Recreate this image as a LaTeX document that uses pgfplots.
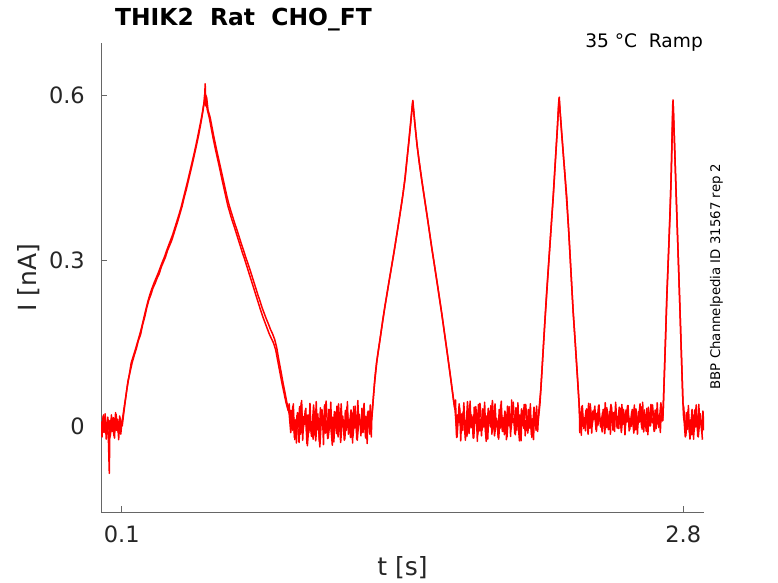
\documentclass[border=0pt]{standalone}
\usepackage{fontspec}
\setmainfont{DejaVu Sans}
\usepackage{pgfplots}
\pgfplotsset{compat=1.18}
\definecolor{txt}{HTML}{262626}
\begin{document}
\begin{tikzpicture}
\path[use as bounding box] (0,0) rectangle (778bp,583bp);
\begin{axis}[
  at={(101bp,71bp)}, anchor=south west,
  scale only axis, width=603bp, height=469bp,
  xmin=0, xmax=2.9, ymin=-0.156, ymax=0.694,
  axis x line*=bottom, axis y line*=left,
  axis line style={black!60, line width=0.6bp},
  xtick={0.1,2.8}, xticklabels={0.1,2.8},
  ytick={0,0.3,0.6}, yticklabels={0\hspace{16bp},0.3,0.6},
  tick align=inside, major tick length=6bp,
  every tick/.style={black!60, line width=0.6bp},
  /pgf/number format/assume math mode=true,
  ticklabel style={font=\fontsize{22.5bp}{27bp}\selectfont, text=txt, inner sep=0pt},
  xticklabel style={anchor=base, yshift=-30.7bp},
  yticklabel style={anchor=east, xshift=-16bp},
]
% sweep A
\addplot[red, line width=1.5bp, line join=round] coordinates {
(0.000,0.008)(0.005,-0.020)(0.010,0.018)(0.015,-0.012)(0.020,0.022)(0.025,-0.024)(0.030,0.005)(0.035,-0.016)(0.040,-0.086)(0.043,0.010)
(0.045,-0.018)(0.050,0.020)(0.055,-0.010)(0.060,0.015)(0.065,-0.022)(0.070,0.024)(0.075,-0.008)(0.080,0.012)(0.085,-0.025)(0.090,0.018)
(0.095,-0.015)(0.100,0.004)
(0.110,0.030)(0.120,0.055)(0.130,0.082)(0.140,0.098)(0.150,0.115)(0.160,0.128)(0.170,0.140)(0.180,0.155)(0.190,0.165)(0.200,0.183)
(0.210,0.197)(0.220,0.214)(0.230,0.228)(0.240,0.238)(0.250,0.250)(0.260,0.258)(0.270,0.268)(0.280,0.276)(0.290,0.288)(0.300,0.297)
(0.310,0.306)(0.320,0.318)(0.330,0.327)(0.340,0.336)(0.350,0.348)(0.360,0.360)(0.370,0.372)(0.380,0.385)(0.390,0.398)(0.400,0.414)
(0.410,0.428)(0.420,0.444)(0.430,0.460)(0.440,0.476)(0.450,0.493)(0.460,0.510)(0.470,0.528)(0.480,0.548)(0.490,0.570)(0.495,0.585)
(0.500,0.605)(0.503,0.580)(0.506,0.598)(0.510,0.575)
(0.520,0.560)(0.530,0.540)(0.540,0.520)(0.550,0.502)(0.560,0.485)(0.570,0.468)(0.580,0.450)(0.590,0.433)(0.600,0.416)(0.610,0.399)
(0.620,0.386)(0.630,0.373)(0.640,0.362)(0.650,0.350)(0.660,0.338)(0.670,0.326)(0.680,0.314)(0.690,0.303)(0.700,0.291)(0.710,0.279)
(0.720,0.267)(0.730,0.255)(0.740,0.243)(0.750,0.231)(0.760,0.219)(0.770,0.207)(0.780,0.196)(0.790,0.186)(0.800,0.176)(0.810,0.166)
(0.820,0.158)(0.830,0.150)(0.840,0.138)(0.850,0.118)(0.860,0.098)(0.870,0.078)(0.880,0.060)(0.890,0.042)(0.900,0.028)(0.905,0.040)
(0.910,0.010)
(0.915,0.028)(0.920,-0.008)(0.925,0.040)(0.930,-0.021)(0.935,0.011)(0.940,-0.031)(0.945,0.024)(0.950,-0.002)(0.955,0.035)(0.960,-0.015)
(0.965,0.046)(0.970,-0.026)(0.975,0.017)(0.980,0.003)(0.985,0.032)(0.990,-0.032)(0.995,0.020)(1.000,-0.012)(1.005,0.041)(1.010,-0.004)
(1.015,0.008)(1.020,-0.024)(1.025,0.027)(1.030,-0.018)(1.035,0.044)(1.040,-0.007)(1.045,0.014)(1.050,-0.028)(1.055,0.033)(1.060,0.001)
(1.065,0.022)(1.070,-0.034)(1.075,0.038)(1.080,-0.013)(1.085,0.009)(1.090,-0.023)(1.095,0.030)(1.100,-0.005)(1.105,0.043)(1.110,-0.016)
(1.115,0.016)(1.120,-0.029)(1.125,0.025)(1.130,0.004)(1.135,0.036)(1.140,-0.020)(1.145,0.019)(1.150,-0.010)(1.155,0.040)(1.160,0.000)
(1.165,0.006)(1.170,-0.026)(1.175,0.028)(1.180,-0.008)(1.185,0.044)(1.190,-0.015)(1.195,0.012)(1.200,-0.021)(1.205,0.024)(1.210,-0.031)
(1.215,0.035)(1.220,-0.004)(1.225,0.020)(1.230,-0.024)(1.235,0.046)(1.240,0.003)(1.245,0.011)(1.250,-0.018)(1.255,0.032)(1.260,-0.012)
(1.265,0.041)(1.270,-0.007)(1.275,0.017)(1.280,-0.032)(1.285,0.027)(1.290,-0.002)(1.295,0.038)(1.300,-0.020)
(1.302,0.010)(1.310,0.052)(1.318,0.090)(1.325,0.114)(1.335,0.140)(1.345,0.165)(1.355,0.192)(1.365,0.216)(1.375,0.238)(1.385,0.261)
(1.395,0.283)(1.405,0.306)(1.413,0.324)(1.423,0.348)(1.433,0.372)(1.443,0.397)(1.453,0.422)(1.461,0.446)(1.470,0.478)(1.480,0.512)
(1.490,0.550)(1.497,0.580)(1.500,0.590)(1.503,0.575)(1.510,0.545)(1.520,0.510)(1.530,0.478)(1.542,0.446)(1.550,0.426)(1.560,0.401)
(1.570,0.376)(1.580,0.350)(1.590,0.324)(1.600,0.300)(1.610,0.275)(1.620,0.250)(1.630,0.225)(1.638,0.205)(1.648,0.178)(1.658,0.151)
(1.668,0.124)(1.678,0.096)(1.688,0.068)(1.696,0.045)(1.702,0.030)
(1.705,0.047)(1.710,-0.021)(1.715,0.020)(1.720,0.006)(1.725,0.033)(1.730,-0.027)(1.735,0.022)(1.740,-0.008)(1.745,0.042)(1.750,0.000)
(1.755,0.010)(1.760,-0.019)(1.765,0.028)(1.770,-0.014)(1.775,0.045)(1.780,-0.003)(1.785,0.016)(1.790,-0.022)(1.795,0.034)(1.800,0.005)
(1.805,0.024)(1.810,-0.028)(1.815,0.039)(1.820,-0.009)(1.825,0.012)(1.830,-0.018)(1.835,0.031)(1.840,-0.002)(1.845,0.043)(1.850,-0.012)
(1.855,0.018)(1.860,-0.024)(1.865,0.027)(1.870,0.008)(1.875,0.037)(1.880,-0.015)(1.885,0.021)(1.890,-0.006)(1.895,0.040)(1.900,0.003)
(1.905,0.009)(1.910,-0.021)(1.915,0.030)(1.920,-0.004)(1.925,0.045)(1.930,-0.010)(1.935,0.015)(1.940,-0.016)(1.945,0.025)(1.950,-0.025)
(1.955,0.036)(1.960,0.000)(1.965,0.022)(1.970,-0.019)(1.975,0.047)(1.980,0.006)(1.985,0.013)(1.990,-0.014)(1.995,0.033)(2.000,-0.008)
(2.005,0.042)(2.010,-0.003)(2.015,0.020)(2.020,-0.027)(2.025,0.028)(2.030,0.001)(2.035,0.039)(2.040,-0.018)(2.045,0.010)(2.050,-0.009)
(2.055,0.030)(2.060,-0.004)(2.065,0.040)(2.070,-0.016)(2.075,0.013)(2.080,-0.025)(2.085,0.025)(2.090,0.001)(2.095,0.036)(2.100,-0.010)
(2.103,0.010)(2.111,0.040)(2.120,0.095)(2.130,0.160)(2.143,0.241)(2.153,0.296)(2.163,0.350)(2.175,0.415)(2.185,0.478)(2.195,0.540)
(2.201,0.585)(2.204,0.596)(2.207,0.575)(2.215,0.532)(2.225,0.484)(2.240,0.415)(2.250,0.348)(2.260,0.280)(2.271,0.205)(2.280,0.155)
(2.290,0.095)(2.299,0.042)(2.302,0.015)
(2.305,0.025)(2.310,-0.017)(2.315,0.037)(2.320,-0.001)(2.325,0.015)(2.330,-0.009)(2.335,0.031)(2.340,0.005)(2.345,0.041)(2.350,-0.004)
(2.355,0.020)(2.360,-0.013)(2.365,0.027)(2.370,0.012)(2.375,0.036)(2.380,-0.006)(2.385,0.023)(2.390,0.001)(2.395,0.038)(2.400,0.008)
(2.405,0.013)(2.410,-0.011)(2.415,0.030)(2.420,0.002)(2.425,0.042)(2.430,-0.003)(2.435,0.018)(2.440,-0.007)(2.445,0.026)(2.450,-0.015)
(2.455,0.035)(2.460,0.006)(2.465,0.024)(2.470,-0.010)(2.475,0.043)(2.480,0.011)(2.485,0.017)(2.490,-0.005)(2.495,0.032)(2.500,0.000)
(2.505,0.039)(2.510,0.003)(2.515,0.021)(2.520,-0.016)(2.525,0.029)(2.530,0.007)(2.535,0.037)(2.540,-0.009)(2.545,0.014)(2.550,-0.001)
(2.555,0.030)(2.560,0.002)(2.565,0.038)(2.570,-0.007)(2.575,0.017)(2.580,-0.015)(2.585,0.026)(2.590,0.007)(2.595,0.035)(2.600,-0.003)
(2.605,0.043)(2.610,-0.011)(2.615,0.021)(2.620,0.011)(2.625,0.032)(2.630,-0.016)(2.635,0.024)(2.640,0.000)(2.645,0.039)(2.650,0.006)
(2.655,0.014)(2.660,-0.010)(2.665,0.029)(2.670,-0.005)(2.675,0.042)(2.680,0.003)(2.685,0.019)(2.690,-0.012)(2.695,0.033)(2.700,0.009)
(2.703,0.020)(2.710,0.100)(2.716,0.170)(2.721,0.234)(2.729,0.310)(2.737,0.386)(2.744,0.480)(2.749,0.560)(2.751,0.591)(2.754,0.560)
(2.760,0.490)(2.769,0.386)(2.777,0.295)(2.785,0.205)(2.792,0.120)(2.798,0.050)(2.801,0.020)
(2.805,0.006)(2.810,-0.020)(2.815,0.024)(2.820,-0.006)(2.825,0.037)(2.830,-0.011)(2.835,0.011)(2.840,-0.016)(2.845,0.020)(2.850,-0.024)
(2.855,0.029)(2.860,-0.002)(2.865,0.018)(2.870,-0.019)(2.875,0.039)(2.880,0.003)(2.885,0.010)(2.890,-0.014)(2.895,0.027)(2.900,-0.008)
};
% sweep B
\addplot[red, line width=1.5bp, line join=round] coordinates {
(0.0025,-0.015)(0.0125,0.020)(0.0225,-0.008)(0.0325,0.016)(0.0425,-0.022)(0.0525,0.010)(0.0625,-0.018)(0.0725,0.021)(0.0825,-0.012)(0.0925,0.014)
(0.102,0.000)(0.115,0.040)(0.125,0.068)(0.135,0.090)(0.145,0.114)(0.155,0.126)(0.165,0.138)(0.175,0.151)(0.185,0.164)(0.195,0.178)
(0.205,0.194)(0.215,0.210)(0.225,0.225)(0.235,0.238)(0.245,0.249)(0.255,0.259)(0.265,0.268)(0.275,0.277)(0.285,0.287)(0.295,0.297)
(0.305,0.306)(0.315,0.317)(0.325,0.327)(0.335,0.337)(0.345,0.347)(0.355,0.359)(0.365,0.371)(0.375,0.383)(0.385,0.396)(0.395,0.411)
(0.405,0.426)(0.415,0.441)(0.425,0.457)(0.435,0.473)(0.445,0.489)(0.455,0.506)(0.465,0.524)(0.475,0.543)(0.485,0.562)(0.493,0.580)
(0.498,0.590)(0.501,0.620)(0.504,0.585)(0.508,0.595)(0.515,0.572)
(0.525,0.559)(0.535,0.539)(0.545,0.520)(0.555,0.502)(0.565,0.485)(0.575,0.468)(0.585,0.451)(0.595,0.434)(0.605,0.417)(0.615,0.402)
(0.625,0.389)(0.635,0.377)(0.645,0.365)(0.655,0.354)(0.665,0.342)(0.675,0.330)(0.685,0.319)(0.695,0.307)(0.705,0.296)(0.715,0.285)
(0.725,0.273)(0.735,0.261)(0.745,0.249)(0.755,0.237)(0.765,0.226)(0.775,0.214)(0.785,0.204)(0.795,0.194)(0.805,0.185)(0.815,0.175)
(0.825,0.167)(0.835,0.157)(0.845,0.142)(0.855,0.120)(0.865,0.100)(0.875,0.079)(0.885,0.060)(0.895,0.040)(0.905,0.022)
(0.9125,-0.012)(0.9225,0.036)(0.9325,-0.025)(0.9425,0.019)(0.9525,-0.030)(0.9625,0.042)(0.9725,-0.006)(0.9825,0.028)(0.9925,-0.036)(1.0025,0.015)
(1.0125,-0.019)(1.0225,0.038)(1.0325,-0.027)(1.0425,0.022)(1.0525,-0.038)(1.0625,0.030)(1.0725,-0.010)(1.0825,0.045)(1.0925,-0.022)(1.1025,0.012)
(1.1125,-0.035)(1.1225,0.026)(1.1325,-0.014)(1.1425,0.040)(1.1525,-0.030)(1.1625,0.018)(1.1725,-0.024)(1.1825,0.034)(1.1925,-0.008)(1.2025,0.029)
(1.2125,-0.018)(1.2225,0.036)(1.2325,-0.026)(1.2425,0.021)(1.2525,-0.012)(1.2625,0.033)(1.2725,-0.022)(1.2825,0.025)(1.2925,-0.015)
(1.303,0.020)(1.315,0.075)(1.327,0.118)(1.347,0.170)(1.367,0.220)(1.387,0.266)(1.407,0.310)(1.427,0.357)(1.447,0.406)(1.463,0.450)
(1.480,0.515)(1.493,0.565)(1.499,0.588)(1.504,0.570)(1.520,0.508)(1.544,0.443)(1.570,0.377)(1.592,0.320)(1.620,0.252)(1.640,0.201)
(1.660,0.147)(1.680,0.092)(1.698,0.040)
(1.7025,0.030)(1.7125,-0.020)(1.7225,0.040)(1.7325,-0.012)(1.7425,0.026)(1.7525,-0.026)(1.7625,0.044)(1.7725,-0.005)(1.7825,0.020)(1.7925,-0.022)
(1.8025,0.035)(1.8125,-0.015)(1.8225,0.041)(1.8325,-0.008)(1.8425,0.024)(1.8525,-0.028)(1.8625,0.032)(1.8725,-0.002)(1.8825,0.046)(1.8925,-0.018)
(1.9025,0.014)(1.9125,-0.024)(1.9225,0.038)(1.9325,-0.010)(1.9425,0.027)(1.9525,-0.020)(1.9625,0.035)(1.9725,-0.006)(1.9825,0.043)(1.9925,-0.016)
(2.0025,0.022)(2.0125,-0.027)(2.0225,0.031)(2.0325,-0.004)(2.0425,0.039)(2.0525,-0.013)(2.0625,0.025)(2.0725,-0.021)(2.0825,0.034)(2.0925,-0.008)
(2.104,0.020)(2.115,0.065)(2.135,0.190)(2.155,0.305)(2.175,0.418)(2.195,0.542)(2.203,0.594)(2.210,0.560)(2.230,0.460)(2.250,0.350)
(2.270,0.212)(2.290,0.098)(2.301,0.030)
(2.3025,-0.012)(2.3125,0.035)(2.3225,-0.005)(2.3325,0.028)(2.3425,-0.015)(2.3525,0.040)(2.3625,0.002)(2.3725,0.030)(2.3825,-0.010)(2.3925,0.036)
(2.4025,-0.002)(2.4125,0.025)(2.4225,-0.014)(2.4325,0.033)(2.4425,0.004)(2.4525,0.039)(2.4625,-0.008)(2.4725,0.027)(2.4825,-0.004)(2.4925,0.034)
(2.5025,-0.012)(2.5125,0.030)(2.5225,0.001)(2.5325,0.037)(2.5425,-0.007)(2.5525,0.026)(2.5625,-0.013)(2.5725,0.031)(2.5825,0.003)(2.5925,0.040)
(2.6025,-0.006)(2.6125,0.029)(2.6225,-0.010)(2.6325,0.034)(2.6425,0.000)(2.6525,0.038)(2.6625,-0.009)(2.6725,0.028)(2.6825,-0.003)(2.6925,0.042)
(2.702,0.010)(2.712,0.125)(2.722,0.240)(2.732,0.338)(2.742,0.450)(2.750,0.588)(2.752,0.580)(2.760,0.492)(2.770,0.375)(2.780,0.262)
(2.790,0.145)(2.799,0.040)
(2.8025,0.034)(2.8125,-0.018)(2.8225,0.026)(2.8325,-0.024)(2.8425,0.030)(2.8525,-0.010)(2.8625,0.038)(2.8725,-0.020)(2.8825,0.022)(2.8925,-0.025)
};
\end{axis}
\node[anchor=base west, inner sep=0pt, font=\bfseries\fontsize{23.4bp}{28bp}\selectfont] at (115bp,557bp) {THIK2\ \ Rat\ \ CHO\_FT};
\node[anchor=base east, inner sep=0pt, font=\fontsize{18.6bp}{22bp}\selectfont] at (703bp,535.7bp) {35 °C\ \ Ramp};
\node[rotate=90, anchor=base, inner sep=0pt, font=\fontsize{13.3bp}{16bp}\selectfont] at (720bp,306.5bp) {BBP Channelpedia ID 31567 rep 2};
\node[rotate=90, anchor=base, inner sep=0pt, text=txt, font=\fontsize{25bp}{30bp}\selectfont] at (36.7bp,305.5bp) {I [nA]};
\node[anchor=base, inner sep=0pt, text=txt, font=\fontsize{25bp}{30bp}\selectfont] at (402.5bp,8bp) {t [s]};
\end{tikzpicture}
\end{document}
